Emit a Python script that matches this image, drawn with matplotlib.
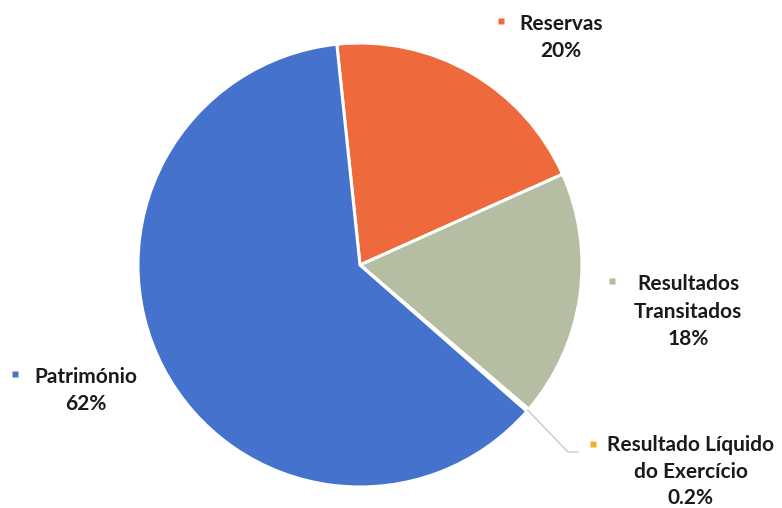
import numpy as np
import matplotlib
matplotlib.use('Agg')
import matplotlib.pyplot as plt

# Data
labels = [['Reservas'], ['Resultados', 'Transitados'],
          ['Resultado Líquido', 'do Exercício'], ['Património']]
values = [20, 18, 0.2, 62]
pct_labels = ['20%', '18%', '0.2%', '62%']
colors = ['#EE6A3C', '#B5BDA2', '#F5B01E', '#4472CC']

W, H = 782, 508
cx, cy, R = 360, 265, 222   # pie centre / radius in pixels

fig = plt.figure(figsize=(W / 100, H / 100), dpi=100)
ax = fig.add_axes([0, 0, 1, 1])

wedges, _ = ax.pie(values, colors=colors, startangle=96, counterclock=False,
                   radius=1, center=(0, 0), frame=True,
                   wedgeprops=dict(edgecolor='white', linewidth=2.2))
ax.set_xlim(-cx / R, (W - cx) / R)
ax.set_ylim(-(H - cy) / R, cy / R)
ax.set_aspect('auto')
ax.axis('off')

def px(x, y):
    return (x - cx) / R, (cy - y) / R

# label layout (pixels): marker position, text centre x, first line centre y, line step
layout = [
    ((501, 21), 561, 22, 27.5),
    ((612, 281), 688, 282, 27.5),
    ((593, 444), 691, 443, 26.5),
    ((15, 374), 86, 375, 27.5),
]

font = dict(family='Lato', fontweight='bold', fontsize=15, color='#1a1a1a')
for i, (lines, pct) in enumerate(zip(labels, pct_labels)):
    (mx, my), tx, ty, step = layout[i]
    ax.plot(*px(mx, my), marker='s', ms=5, color=colors[i], mec='none')
    for j, line in enumerate(lines + [pct]):
        ax.text(*px(tx, ty + j * step), line, ha='center',
                va='center_baseline', **font)

# leader line for the tiny slice
w = wedges[2]
mid = np.deg2rad((w.theta1 + w.theta2) / 2)
x0, y0 = np.cos(mid), np.sin(mid)
xa, ya = px(568, 452)
xb, yb = px(578, 452)
ax.plot([x0, xa, xb], [y0, ya, yb], color='#c8c8c8', lw=1)

fig.savefig('out.png', dpi=100, facecolor='white')
